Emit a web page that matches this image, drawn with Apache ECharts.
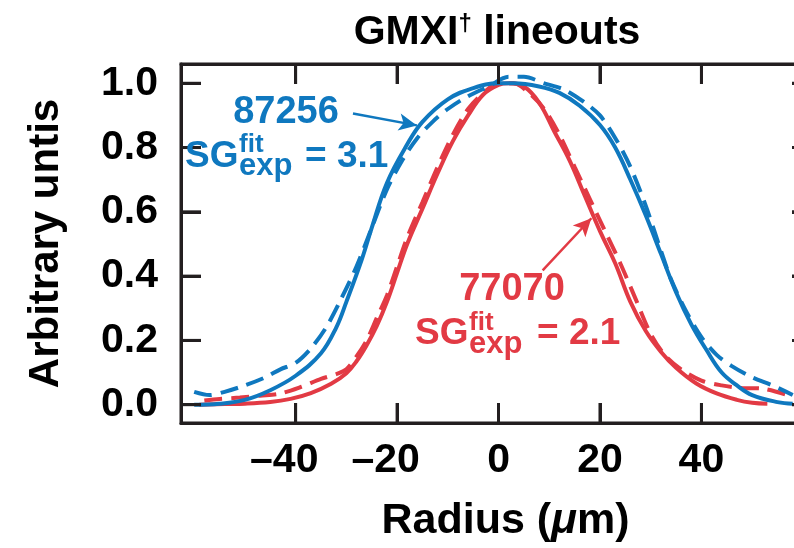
<!DOCTYPE html>
<html><head><meta charset="utf-8">
<script src="https://cdn.jsdelivr.net/npm/echarts@6/dist/echarts.min.js"></script>
<style>html,body{margin:0;padding:0;background:#fff}#c{width:794px;height:548px}</style>
</head><body><div id="c"></div>
<script>
// ---- data (radius in µm, arbitrary units) ----
const blueFitR = [-60,-55,-50,-45,-40,-35,-32,-30,-27,-25,-22,-18,-15,-10,-5,0,3,8,12,16,20,23,26,29,32,35,38,41,44,47,50,55,58];
const blueFitV = [0.0,0.003,0.015,0.045,0.09,0.16,0.24,0.32,0.45,0.55,0.69,0.81,0.88,0.95,0.985,1.0,1.0,0.99,0.97,0.93,0.87,0.80,0.70,0.59,0.47,0.35,0.25,0.17,0.10,0.06,0.03,0.008,0.003];
const blueDataR = [-60,-57,-54,-50,-46,-43,-40,-37,-34,-31,-28,-25,-22,-19,-16,-13,-10,-6,-2,2,5,9,13,17,20,23,26,29,32,34,37,40,43,46,50,54,58];
const blueDataV = [0.04,0.03,0.04,0.06,0.085,0.11,0.13,0.175,0.24,0.33,0.43,0.55,0.67,0.76,0.83,0.88,0.92,0.96,0.99,1.02,1.02,1.0,0.98,0.94,0.90,0.83,0.74,0.62,0.48,0.39,0.29,0.21,0.155,0.12,0.085,0.06,0.03];
const redFitR = [-59,-54,-50,-45,-41,-37,-33,-30,-28,-26,-24,-22,-20,-18,-15,-12,-9,-6,-3,0,2,5,8,11,14,17,20,23,26,29,32,35,39,43,47,50,53];
const redFitV = [0.0,0.002,0.003,0.008,0.018,0.036,0.065,0.098,0.135,0.185,0.245,0.32,0.41,0.50,0.61,0.72,0.82,0.90,0.965,0.995,1.0,0.99,0.94,0.85,0.76,0.65,0.54,0.44,0.32,0.23,0.165,0.115,0.066,0.035,0.015,0.006,0.003];
const redDataR = [-58,-55,-51,-47,-43,-39,-35,-32,-30,-28,-26,-24,-22,-20,-18,-15,-12,-9,-6,-3,0,3,6,9,12,15,18,21,24,27,30,33,36,40,44,48,52,57];
const redDataV = [0.013,0.018,0.022,0.028,0.035,0.055,0.08,0.095,0.11,0.15,0.20,0.27,0.34,0.43,0.52,0.63,0.74,0.84,0.92,0.97,1.0,1.0,0.97,0.92,0.84,0.74,0.64,0.54,0.44,0.33,0.22,0.15,0.11,0.075,0.06,0.052,0.05,0.03];

const xTickValues = [-40,-20,0,20,40];
const xTickLabels = ['–40','–20','0','20','40'];
const yTickValues = [0,0.2,0.4,0.6,0.8,1.0];
const yTickLabels = ['0.0','0.2','0.4','0.6','0.8','1.0'];

const blueArrow = [[-28.7,0.906],[-16.1,0.869]];
const redArrow = [[8.7,0.418],[18.3,0.580]];
const blueShot = '87256', blueSG = '3.1';
const redShot = '77070', redSG = '2.1';

// ---- styling ----
const FONT = 'Liberation Sans, Arial, Helvetica, sans-serif';
const BLUE = '#0f78bf';
const RED = '#e23a44';
const AX = '#231f20';
const TS = 41;

const zip = (a, b) => a.map((v, i) => [v, b[i]]);

function xAx(extra) {
  return Object.assign({
    type: 'value', min: -62.6, max: 61.8, z: 10,
    splitLine: {show: false},
    axisLine: {show: true, onZero: false, lineStyle: {color: AX, width: 3}},
    axisTick: {show: true, inside: true, length: 20, customValues: xTickValues, lineStyle: {color: AX, width: 3}}
  }, extra);
}
function yAx(extra) {
  return Object.assign({
    type: 'value', min: -0.057, max: 1.06, z: 10,
    splitLine: {show: false},
    axisLine: {show: true, onZero: false, lineStyle: {color: AX, width: 3}},
    axisTick: {show: true, inside: true, length: 20, customValues: yTickValues, lineStyle: {color: AX, width: 3}}
  }, extra);
}

// text annotation placed by its anchor (x, vertical middle y)
function note(x, y, text, size, color, align) {
  return {text: text, left: x, top: y - size / 2, padding: 0, textAlign: align || 'left', z: 20,
    textStyle: {fontFamily: FONT, fontWeight: 'bold', fontSize: size, color: color}};
}

// frame with inward ticks on all four sides, placed through the axes' scales
function renderFrame(params, api) {
  const cs = params.coordSys;
  const x0 = cs.x, y0 = cs.y, w = cs.width, h = cs.height, L = 20;
  const st = function () { return {stroke: AX, lineWidth: 3, fill: null}; };
  const children = [{type: 'rect', shape: {x: x0, y: y0, width: w, height: h}, style: st()}];
  xTickValues.forEach(function (v) {
    const p = api.coord([v, 0])[0];
    children.push({type: 'line', shape: {x1: p, y1: y0 + h, x2: p, y2: y0 + h - L}, style: st()});
    children.push({type: 'line', shape: {x1: p, y1: y0, x2: p, y2: y0 + L}, style: st()});
  });
  yTickValues.forEach(function (v) {
    const q = api.coord([0, v])[1];
    children.push({type: 'line', shape: {x1: x0, y1: q, x2: x0 + L, y2: q}, style: st()});
    children.push({type: 'line', shape: {x1: x0 + w, y1: q, x2: x0 + w - L, y2: q}, style: st()});
  });
  return {type: 'group', children: children};
}

const option = {
  animation: false,
  grid: {left: 181, top: 64, width: 631, height: 359, outerBoundsMode: 'none'},
  title: [
    {text: '{a|GMXI}{s|†}{a| lineouts}', left: 497, top: 12, padding: 0, textAlign: 'center',
     textStyle: {rich: {
       a: {fontFamily: FONT, fontWeight: 'bold', fontSize: 41, color: '#000'},
       s: {fontFamily: FONT, fontWeight: 'bold', fontSize: 24, color: '#000', verticalAlign: 'top'}
     }}},
    note(286, 113, blueShot, 38, BLUE, 'center'),
    note(185, 157, 'SG', 37, BLUE),
    note(239, 145, 'fit', 26, BLUE),
    note(239, 166, 'exp', 31, BLUE),
    note(305, 157, '= ' + blueSG, 37, BLUE),
    note(512, 290, redShot, 38, RED, 'center'),
    note(415, 334, 'SG', 37, RED),
    note(469, 323, 'fit', 26, RED),
    note(469, 344, 'exp', 31, RED),
    note(537, 334, '= ' + redSG, 37, RED)
  ],
  xAxis: [
    xAx({
      position: 'bottom',
      name: '{a|Radius (}{i|μ}{a|m)}',
      nameLocation: 'middle', nameGap: 77,
      nameTextStyle: {padding: [0, 0, 0, 18], rich: {
        a: {fontFamily: FONT, fontWeight: 'bold', fontSize: 43, color: '#000'},
        i: {fontFamily: FONT, fontWeight: 'bold', fontStyle: 'italic', fontSize: 43, color: '#000'}
      }},
      axisLabel: {
        show: true, margin: 17, customValues: xTickValues,
        formatter: function (v) {
          const i = xTickValues.indexOf(Math.round(v));
          const s = i >= 0 ? xTickLabels[i] : '';
          return v < 0 ? '{n|' + s + '}{h|–}' : '{n|' + s + '}';
        },
        rich: {
          n: {fontFamily: FONT, fontWeight: 'bold', fontSize: TS, color: '#000'},
          h: {fontFamily: FONT, fontWeight: 'bold', fontSize: TS, color: 'rgba(0,0,0,0)'}
        }
      }
    }),
    xAx({position: 'top', axisLabel: {show: false}})
  ],
  yAxis: [
    yAx({
      position: 'left',
      name: 'Arbitrary untis', nameLocation: 'middle', nameGap: 114, nameRotate: 90,
      nameTextStyle: {fontFamily: FONT, fontWeight: 'bold', fontSize: 42, color: '#000'},
      axisLabel: {
        show: true, margin: 23, customValues: yTickValues,
        formatter: function (v) {
          const i = yTickValues.findIndex(t => Math.abs(t - v) < 1e-6);
          return i >= 0 ? yTickLabels[i] : '';
        },
        fontFamily: FONT, fontWeight: 'bold', fontSize: TS, color: '#000'
      }
    }),
    yAx({position: 'right', axisLabel: {show: false}})
  ],
  series: [
    {type: 'custom', name: 'frame', silent: true, clip: false, z: 10, data: [[0, 0]], renderItem: renderFrame},
    {type: 'line', name: '77070 data', data: zip(redDataR, redDataV), showSymbol: false, smooth: 0.3,
     lineStyle: {color: RED, width: 4, type: [18, 9]}},
    {type: 'line', name: '77070 fit', data: zip(redFitR, redFitV), showSymbol: false, smooth: 0.4,
     lineStyle: {color: RED, width: 4},
     markLine: {silent: true, symbol: ['none', 'arrow'], symbolSize: [13, 18],
       lineStyle: {color: RED, width: 2.5, type: 'solid'}, label: {show: false},
       data: [[{coord: redArrow[0]}, {coord: redArrow[1]}]]}},
    {type: 'line', name: '87256 data', data: zip(blueDataR, blueDataV), showSymbol: false, smooth: 0.3,
     lineStyle: {color: BLUE, width: 4, type: [18, 9]}},
    {type: 'line', name: '87256 fit', data: zip(blueFitR, blueFitV), showSymbol: false, smooth: 0.4,
     lineStyle: {color: BLUE, width: 4},
     markLine: {silent: true, symbol: ['none', 'arrow'], symbolSize: [13, 18],
       lineStyle: {color: BLUE, width: 2.5, type: 'solid'}, label: {show: false},
       data: [[{coord: blueArrow[0]}, {coord: blueArrow[1]}]]}}
  ]
};

const chart = echarts.init(document.getElementById('c'));
chart.setOption(option);
</script></body></html>
